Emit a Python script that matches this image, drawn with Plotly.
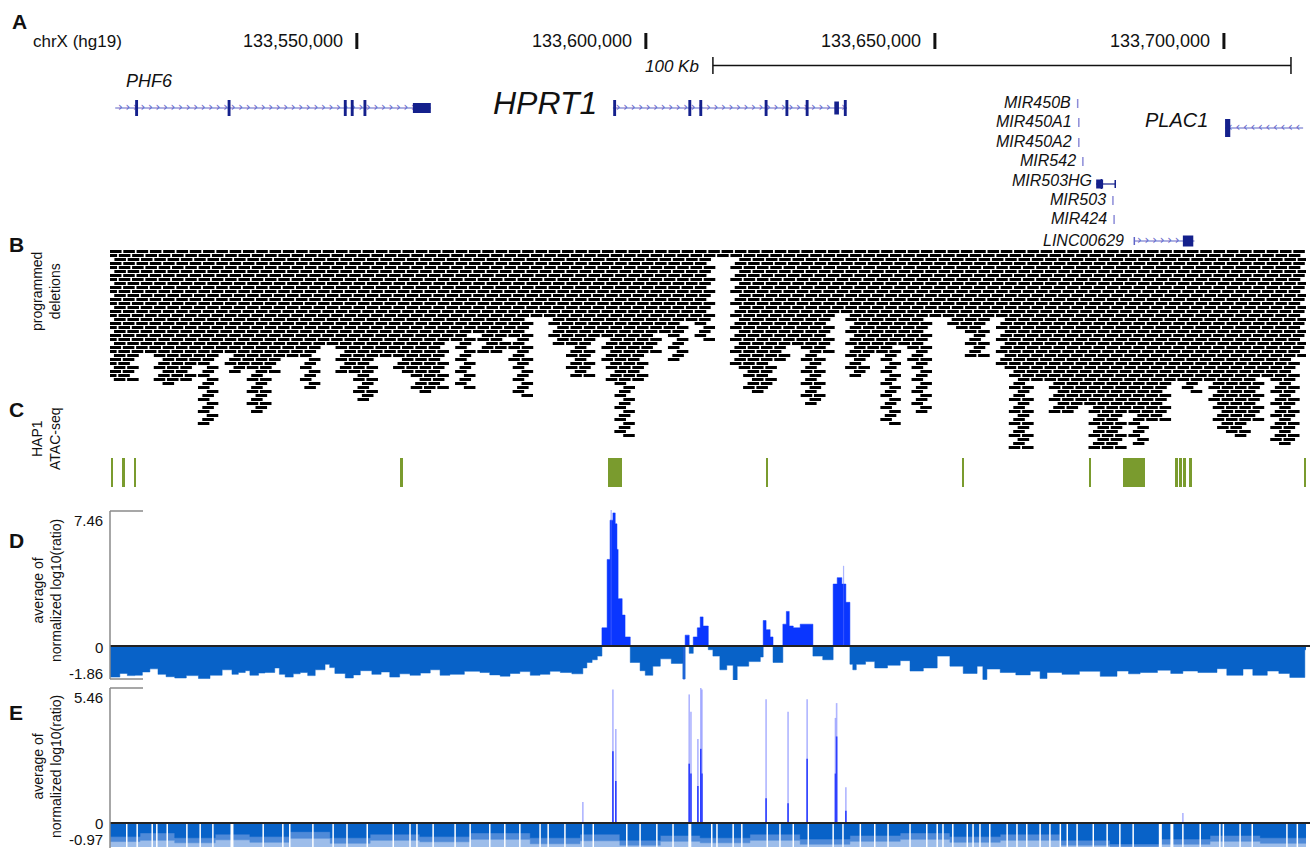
import bisect
import plotly.graph_objects as go

FONT = "Liberation Sans, Arial, Helvetica, sans-serif"
W, H = 1312, 848
WIN_KB = [133507.3, 133714.2]          # visible window, kb on chrX (hg19)

# ---------------- ruler ----------------
ruler_tick_kb = [133550, 133600, 133650, 133700]
ruler_tick_txt = ["133,550,000", "133,600,000", "133,650,000", "133,700,000"]
scalebar_kb = [133611.6, 133711.6]

# ---------------- genes (kb) ----------------
phf6_span = [133508.2, 133562.8]
phf6_exons = [133511.9, 133527.9, 133548.0, 133549.2, 133551.4]
phf6_block = [133559.7, 133562.8]
hprt1_span = [133594.3, 133634.8]
hprt1_exons = [133594.6, 133607.6, 133609.5, 133620.8, 133624.4, 133627.9, 133634.5]
hprt1_block = [133632.6, 133633.4]
plac1_span = [133700.2, 133713.7]
plac1_block = [133700.2, 133701.1]
mir503hg_span = [133677.9, 133681.2]
mir503hg_block = [133677.9, 133679.1]
linc00629_span = [133684.5, 133694.9]
linc00629_block = [133692.9, 133694.7]
mirna_names = ["MIR450B", "MIR450A1", "MIR450A2", "MIR542", "MIR503", "MIR424"]
mirna_kb = [133674.7, 133674.9, 133674.9, 133675.6, 133680.8, 133681.0]

# ---------------- programmed deletions: stack depth per region ----------------
del_edges_kb = [133507.3, 133511.3, 133515.6, 133518.7, 133521.5, 133522.9, 133525.1, 133528.1,
                133530.7, 133531.9, 133534.6, 133536.2, 133538.4, 133540.7, 133542.9, 133546.6,
                133549.7, 133553.3, 133556.6, 133559.7, 133563.4, 133565.6, 133567.3, 133569.9,
                133571.7, 133576.0, 133577.2, 133580.0, 133583.9, 133586.5, 133590.5, 133593.3,
                133595.2, 133597.6, 133599.9, 133601.9, 133604.5, 133606.6, 133609.2, 133611.5,
                133615.4, 133617.5, 133619.9, 133622.2, 133624.6, 133627.2, 133630.3, 133632.2,
                133635.0, 133638.3, 133641.0, 133643.6, 133646.2, 133649.0, 133653.0, 133655.6,
                133659.0, 133660.9, 133663.7, 133666.3, 133670.3, 133674.3, 133677.0, 133682.4,
                133684.3, 133686.4, 133690.3, 133693.1, 133695.7, 133698.3, 133701.1, 133703.7,
                133706.4, 133709.0, 133712.5, 133714.2]
del_rows = [33, 26, 34, 33, 28, 44, 26, 31, 29, 41, 31, 27, 27, 35, 24, 31, 38, 27, 31, 36,
            35, 23, 35, 21, 26, 21, 37, 17, 24, 32, 22, 33, 47, 33, 26, 21, 28, 18, 23, 2,
            30, 36, 35, 28, 24, 39, 26, 16, 32, 26, 44, 24, 41, 17, 20, 27, 17, 30, 50, 33,
            41, 39, 50, 41, 49, 43, 33, 36, 33, 45, 47, 43, 32, 49, 27]

# ---------------- HAP1 ATAC-seq peaks (kb) ----------------
atac_start_kb = [133507.5, 133509.3, 133511.4, 133557.5, 133593.5, 133620.8, 133654.7, 133676.6,
                 133682.5, 133691.6, 133692.2, 133693.0, 133694.0, 133713.8]
atac_end_kb = [133507.9, 133509.9, 133511.8, 133557.9, 133595.9, 133621.2, 133655.1, 133677.0,
               133686.4, 133692.0, 133692.8, 133693.4, 133694.4, 133714.2]

# ---------------- D: average normalized log10(ratio) (step profile) ----------------
d_pos_kb = [133507.3, 133509.0, 133510.3, 133511.6, 133512.9, 133514.2, 133515.6, 133517.0,
            133518.5, 133520.5, 133522.6, 133524.6, 133526.7, 133528.4, 133529.5, 133530.7,
            133531.5, 133533.0, 133534.1, 133535.8, 133536.6, 133537.6, 133539.0, 133540.2,
            133541.5, 133542.8, 133544.5, 133545.3, 133546.2, 133548.0, 133549.4, 133550.6,
            133552.6, 133554.2, 133555.7, 133557.4, 133559.2, 133561.0, 133562.7, 133564.4,
            133566.1, 133568.6, 133571.3, 133573.0, 133574.8, 133576.5, 133578.2, 133580.0,
            133581.7, 133583.4, 133585.2, 133587.2, 133589.1, 133589.8,
            133590.7, 133591.6, 133592.4, 133593.3, 133593.8, 133594.3, 133594.7, 133595.0,
            133595.2, 133595.9, 133596.4, 133597.3, 133599.0, 133599.9, 133601.2, 133602.5,
            133604.4, 133606.4, 133606.8, 133607.5, 133608.2, 133608.9, 133609.4, 133609.9, 133610.8,
            133611.6, 133612.8, 133614.0, 133615.1, 133615.8, 133617.8, 133619.8, 133620.3, 133620.8, 133621.5,
            133622.0, 133623.7, 133624.3, 133624.8, 133625.5, 133626.7, 133628.9, 133630.6, 133632.4,
            133633.1, 133633.9, 133634.6, 133635.3, 133635.8, 133636.4, 133638.0, 133639.6, 133641.8, 133644.0,
            133645.7, 133648.0, 133650.4, 133652.6, 133654.9, 133657.3, 133658.3, 133659.0, 133661.3,
            133664.0, 133666.5, 133668.2, 133669.4, 133672.0, 133675.0, 133678.6, 133681.5, 133683.5,
            133685.5, 133688.5, 133690.8, 133692.9, 133695.5, 133698.8, 133700.5,
            133703.3, 133705.0, 133707.5, 133709.5, 133711.4, 133714.0]
d_val = [-1.70, -1.50, -1.62, -1.60, -1.42, -1.25, -1.55, -1.68,
         -1.75, -1.62, -1.78, -1.60, -1.30, -1.55, -1.45,
         -1.35, -1.60, -1.48, -1.45, -1.20, -1.55, -1.70, -1.52, -1.45,
         -1.62, -1.30, -1.00, -1.18, -1.50, -1.75, -1.58, -1.35,
         -1.55, -1.42, -1.70, -1.52, -1.60, -1.48, -1.30, -1.60,
         -1.55, -1.38, -1.45, -1.58, -1.65, -1.50, -1.40, -1.60,
         -1.55, -1.38, -1.45, -1.52, -1.20, -0.90,
         -0.75, -0.55, 1.00, 4.75, 6.90, 7.30, 6.70, 5.30,
         2.60, 1.70, 0.50, -0.90, -1.35, -1.60, -1.10, -0.70,
         -0.95, -1.80, 0.60, -0.40, 0.50, 1.00, 1.60, 1.10, -0.20,
         -0.55, -1.30, -1.05, -1.90, -1.10, -0.85, -0.60, 1.40, 0.90, 0.50,
         -0.90, 1.20, 1.90, 1.10, 1.00, 1.20, -0.55, -0.75, 3.40,
         3.75, 3.40, 2.40, -1.00, -1.30, -1.00, -0.85, -1.20, -1.05, -0.80,
         -1.37, -1.20, -0.55, -1.10, -1.50, -1.10, -1.83, -1.26, -1.45,
         -1.58, -1.38, -1.78, -1.45, -1.55, -1.38, -1.66, -1.37, -1.52,
         -1.45, -1.32, -1.50, -1.37, -1.45, -1.24, -1.60,
         -1.26, -1.60, -1.37, -1.50, -1.72, -0.20]
d_thin_kb = [133594.0, 133634.2, 133606.6]
d_thin_val = [7.46, 4.40, -1.86]

# ---------------- E: average normalized log10(ratio) ----------------
e_spike_kb = [133589.1, 133594.3, 133594.8, 133607.5, 133607.8, 133609.0, 133609.5, 133609.7,
              133620.8, 133624.6, 133627.9, 133632.8, 133633.0, 133634.6, 133692.9]
e_spike_max = [0.85, 5.40, 3.80, 5.20, 4.50, 3.40, 5.46, 5.40, 5.00, 4.50, 5.00, 4.25, 4.85, 1.45, 0.40]
e_spike_dense = [0.0, 2.9, 1.7, 2.4, 2.0, 1.5, 3.0, 2.0, 1.0, 0.8, 2.6, 2.0, 3.5, 0.5, 0.0]
e_dark_kb = [133507.3, 133512.5, 133518.5, 133525.5, 133531.5, 133538.4, 133545.4, 133552.3,
             133560.9, 133569.6, 133580.0, 133588.6, 133595.5, 133602.5, 133609.4, 133618.0,
             133626.7, 133635.3, 133644.0, 133652.6, 133661.3, 133671.7, 133680.3, 133689.0,
             133697.6, 133706.3]
e_dark_val = [-0.55, -0.40, -0.60, -0.45, -0.55, -0.35, -0.60, -0.45, -0.55, -0.40, -0.60, -0.45,
              -0.70, -0.50, -0.60, -0.45, -0.65, -0.50, -0.40, -0.55, -0.45, -0.70, -0.85, -0.65,
              -0.50, -0.60]
e_mid_val = [-0.75, -0.70, -0.80, -0.68, -0.78, -0.62, -0.82, -0.70, -0.76, -0.66, -0.84, -0.72,
             -0.90, -0.74, -0.80, -0.70, -0.86, -0.74, -0.66, -0.78, -0.70, -0.90, -0.95, -0.86,
             -0.74, -0.82]
e_gap_kb = [133510.2, 133512.0, 133514.6, 133515.4, 133517.2, 133520.6, 133522.9, 133525.1,
            133528.4, 133533.8, 133537.2, 133538.4, 133542.4, 133545.9, 133548.3, 133551.8,
            133556.3, 133559.2, 133560.4, 133563.2, 133567.0, 133569.6, 133573.0, 133575.6,
            133578.2, 133581.7, 133583.1, 133586.0, 133589.1, 133590.9, 133596.7, 133599.0,
            133601.9, 133604.7, 133607.6, 133611.4, 133612.3, 133615.1, 133616.6, 133621.0,
            133623.2, 133625.5, 133628.1, 133632.4, 133634.1, 133637.1, 133639.6, 133641.9,
            133645.7, 133648.6, 133650.4, 133651.4, 133653.1, 133655.6, 133656.6, 133657.8,
            133659.5, 133662.5, 133664.2, 133665.9, 133668.2, 133669.9, 133671.7, 133672.9,
            133674.6, 133677.4, 133679.8, 133682.0, 133684.3, 133689.0, 133691.0, 133692.9,
            133695.9, 133699.3, 133699.9, 133702.8, 133704.9, 133710.9, 133712.7]
e_gap_wide_kb = [133528.4, 133607.6, 133689.0, 133691.0]

# ---------------- colours ----------------
NAVY = "#14208c"
INTRON = "#5f64c8"
MIRC = "#8c8cd8"
ATAC = "#7a9b2e"
POS = "#0a36ff"
NEG = "#0862c8"
EMID = "#4f8ad8"
ELIGHT = "#9dbdea"

fig = go.Figure()
shapes, annotations = [], []


def ann(text, px, py, size=15, xanchor="center", yanchor="middle", angle=0, bold=False):
    t = "<b>%s</b>" % text if bold else text
    annotations.append(dict(xref="paper", yref="paper", x=px / W, y=1 - py / H, text=t,
                            showarrow=False, xanchor=xanchor, yanchor=yanchor, textangle=angle,
                            font=dict(size=size, color="#111", family=FONT)))


def rect(x0, x1, yc, half, color):
    shapes.append(dict(type="rect", xref="x", yref="y", x0=x0, x1=x1, y0=yc - half, y1=yc + half,
                       fillcolor=color, line=dict(width=0), layer="above"))


def hline(x0, x1, y, color, width):
    shapes.append(dict(type="line", xref="x", yref="y", x0=x0, x1=x1, y0=y, y1=y,
                       line=dict(color=color, width=width), layer="above"))


def vline(x, y0, y1, color, width):
    shapes.append(dict(type="line", xref="x", yref="y", x0=x, x1=x, y0=y0, y1=y1,
                       line=dict(color=color, width=width), layer="above"))


def chevrons(span, y, symbol, step=1.3):
    xs = []
    x = span[0] + 0.9
    while x < span[1] - 0.6:
        xs.append(x)
        x += step
    fig.add_trace(go.Scatter(x=xs, y=[y - 0.5] * len(xs), mode="text", text=[symbol] * len(xs),
                             textfont=dict(size=12, color=INTRON, family="DejaVu Sans"),
                             hoverinfo="skip", showlegend=False, xaxis="x", yaxis="y"))


# ---- ruler ----
for kb, lab in zip(ruler_tick_kb, ruler_tick_txt):
    vline(kb, 33, 49, "#111", 3)
    annotations.append(dict(xref="x", yref="y", x=kb, y=41, text=lab, xanchor="right", yanchor="middle",
                            xshift=-12, showarrow=False, font=dict(size=18, color="#111", family=FONT)))
ann("chrX (hg19)", 31, 41, size=17, xanchor="left")
hline(scalebar_kb[0], scalebar_kb[1], 65.5, "#111", 1.5)
vline(scalebar_kb[0], 57, 74, "#111", 1.5)
vline(scalebar_kb[1], 57, 74, "#111", 1.5)
annotations.append(dict(xref="x", yref="y", x=scalebar_kb[0], y=66, text="<i>100 Kb</i>", xanchor="right",
                        yanchor="middle", xshift=-12, showarrow=False,
                        font=dict(size=17, color="#111", family=FONT)))

# ---- genes ----
EXW = 0.5
hline(phf6_span[0], phf6_span[1], 108, INTRON, 1.2)
chevrons(phf6_span, 108, "›")
for e in phf6_exons:
    rect(e - EXW / 2, e + EXW / 2, 108, 8, NAVY)
rect(phf6_block[0], phf6_block[1], 108, 5, NAVY)
ann("<i>PHF6</i>", 149, 81, size=18)

hline(hprt1_span[0], hprt1_span[1], 108, INTRON, 1.2)
chevrons(hprt1_span, 108, "›")
for e in hprt1_exons:
    rect(e - EXW / 2, e + EXW / 2, 108, 8, NAVY)
rect(hprt1_block[0], hprt1_block[1], 108, 6.5, NAVY)
annotations.append(dict(xref="x", yref="y", x=hprt1_span[0], y=103, text="<i>HPRT1</i>", xanchor="right",
                        yanchor="middle", xshift=-14, showarrow=False,
                        font=dict(size=32, color="#111", family=FONT)))

hline(plac1_span[0], plac1_span[1], 128, INTRON, 1.2)
chevrons(plac1_span, 128, "‹")
rect(plac1_block[0], plac1_block[1], 128, 9, NAVY)
annotations.append(dict(xref="x", yref="y", x=plac1_span[0], y=120, text="<i>PLAC1</i>", xanchor="right",
                        yanchor="middle", xshift=-15, showarrow=False,
                        font=dict(size=20, color="#111", family=FONT)))

mirna_row = [102, 121, 141, 160, 199, 218]
for name, kb, y in zip(mirna_names, mirna_kb, mirna_row):
    vline(kb, y - 3, y + 6, MIRC, 1.5)
    annotations.append(dict(xref="x", yref="y", x=kb, y=y, text="<i>%s</i>" % name, xanchor="right",
                            yanchor="middle", xshift=-5, showarrow=False,
                            font=dict(size=16, color="#111", family=FONT)))

hline(mir503hg_span[0], mir503hg_span[1], 184, NAVY, 1.2)
rect(mir503hg_block[0], mir503hg_block[1], 184, 4.5, NAVY)
vline(mir503hg_span[1], 180, 188, NAVY, 1.5)
vline(mir503hg_block[1] - 0.3, 179, 189, NAVY, 1.5)
annotations.append(dict(xref="x", yref="y", x=mir503hg_span[0], y=180, text="<i>MIR503HG</i>", xanchor="right",
                        yanchor="middle", xshift=-2, showarrow=False,
                        font=dict(size=16, color="#111", family=FONT)))

hline(linc00629_span[0], linc00629_span[1], 241, INTRON, 1.2)
chevrons([linc00629_span[0], linc00629_block[0]], 241, "›")
vline(linc00629_span[0], 237, 245, INTRON, 1.5)
rect(linc00629_block[0], linc00629_block[1], 241, 5.5, NAVY)
annotations.append(dict(xref="x", yref="y", x=linc00629_span[0], y=240, text="<i>LINC00629</i>", xanchor="right",
                        yanchor="middle", xshift=-8, showarrow=False,
                        font=dict(size=16, color="#111", family=FONT)))

# ---- programmed deletions ----
BAR, GAP = 2.0, 0.3
PITCH = BAR + GAP
dx, dy = [], []
for r in range(max(del_rows)):
    y = 251.5 + 4 * r
    s = WIN_KB[0] - (r * 0.77) % PITCH
    while s < WIN_KB[1]:
        c = s + BAR / 2
        i = bisect.bisect_right(del_edges_kb, c) - 1
        if 0 <= i < len(del_rows) and del_rows[i] > r:
            a, b = max(s, del_edges_kb[0]), min(s + BAR, del_edges_kb[-1])
            if b > a:
                dx += [a, b, None]
                dy += [y, y, None]
        s += PITCH
fig.add_trace(go.Scatter(x=dx, y=dy, mode="lines", line=dict(color="black", width=3),
                         hoverinfo="skip", showlegend=False, xaxis="x", yaxis="y"))

# ---- ATAC ----
fig.add_trace(go.Bar(x=[(a + b) / 2 for a, b in zip(atac_start_kb, atac_end_kb)],
                     y=[1] * len(atac_start_kb),
                     width=[b - a for a, b in zip(atac_start_kb, atac_end_kb)],
                     marker=dict(color=ATAC, line=dict(width=0)), showlegend=False,
                     hoverinfo="skip", xaxis="x", yaxis="y4"))

# ---- D ----
dxs = d_pos_kb + [WIN_KB[1]]
dpos = [max(v, 0) for v in d_val] + [max(d_val[-1], 0)]
dneg = [min(v, 0) for v in d_val] + [min(d_val[-1], 0)]
fig.add_trace(go.Scatter(x=dxs, y=dneg, mode="lines", line=dict(color=NEG, width=0.5, shape="hv"),
                         fill="tozeroy", fillcolor=NEG, hoverinfo="skip", showlegend=False,
                         xaxis="x", yaxis="y2"))
fig.add_trace(go.Scatter(x=dxs, y=dpos, mode="lines", line=dict(color=POS, width=0.5, shape="hv"),
                         fill="tozeroy", fillcolor=POS, hoverinfo="skip", showlegend=False,
                         xaxis="x", yaxis="y2"))
tx, ty = [], []
for k, v in zip(d_thin_kb, d_thin_val):
    tx += [k, k, None]
    ty += [0, v, None]
fig.add_trace(go.Scatter(x=tx, y=ty, mode="lines", line=dict(color="rgba(90,110,255,0.5)", width=1.2),
                         hoverinfo="skip", showlegend=False, xaxis="x", yaxis="y2"))

# ---- E ----
fig.add_trace(go.Scatter(x=WIN_KB, y=[-0.97, -0.97], mode="lines", line=dict(color=ELIGHT, width=0),
                         fill="tozeroy", fillcolor=ELIGHT, hoverinfo="skip", showlegend=False,
                         xaxis="x", yaxis="y3"))
exs = e_dark_kb + [WIN_KB[1]]
fig.add_trace(go.Scatter(x=exs, y=e_mid_val + [e_mid_val[-1]], mode="lines",
                         line=dict(color=EMID, width=0.5, shape="hv"),
                         fill="tozeroy", fillcolor=EMID, hoverinfo="skip", showlegend=False,
                         xaxis="x", yaxis="y3"))
fig.add_trace(go.Scatter(x=exs, y=e_dark_val + [e_dark_val[-1]], mode="lines",
                         line=dict(color=NEG, width=0.5, shape="hv"),
                         fill="tozeroy", fillcolor=NEG, hoverinfo="skip", showlegend=False,
                         xaxis="x", yaxis="y3"))
gx, gy = [], []
for g in e_gap_kb:
    gx += [g, g, None]
    gy += [-0.04, -0.97, None]
fig.add_trace(go.Scatter(x=gx, y=gy, mode="lines", line=dict(color="white", width=1.5),
                         hoverinfo="skip", showlegend=False, xaxis="x", yaxis="y3"))
wx, wy = [], []
for g in e_gap_wide_kb:
    wx += [g, g, None]
    wy += [-0.04, -0.97, None]
fig.add_trace(go.Scatter(x=wx, y=wy, mode="lines", line=dict(color="white", width=3),
                         hoverinfo="skip", showlegend=False, xaxis="x", yaxis="y3"))
sx, sy, kx, ky = [], [], [], []
for k, m, d in zip(e_spike_kb, e_spike_max, e_spike_dense):
    sx += [k, k, None]
    sy += [0, m, None]
    if d > 0:
        kx += [k, k, None]
        ky += [0, d, None]
fig.add_trace(go.Scatter(x=sx, y=sy, mode="lines", line=dict(color="rgba(110,120,255,0.55)", width=1.6),
                         hoverinfo="skip", showlegend=False, xaxis="x", yaxis="y3"))
fig.add_trace(go.Scatter(x=kx, y=ky, mode="lines", line=dict(color="#2e40ff", width=1.6),
                         hoverinfo="skip", showlegend=False, xaxis="x", yaxis="y3"))

# ---- axes frames / zero lines ----
AX = "#8a8a8a"
for yref in ("y2", "y3"):
    shapes.append(dict(type="line", xref="paper", yref=yref, x0=110 / W, x1=1310 / W, y0=0, y1=0,
                       line=dict(color="#222", width=2), layer="above"))


def pline(x0, y0, x1, y1):
    shapes.append(dict(type="line", xref="paper", yref="paper", x0=x0 / W, x1=x1 / W,
                       y0=1 - y0 / H, y1=1 - y1 / H, line=dict(color=AX, width=1.5), layer="above"))


pline(110, 511, 110, 679)
pline(110, 511, 143, 511)
pline(110, 679, 143, 679)
pline(110, 688, 110, 848)
pline(110, 688, 143, 688)

# tick labels
ann("7.46", 105, 520, size=15, xanchor="right")
ann("0", 105, 647, size=15, xanchor="right")
ann("-1.86", 105, 673, size=15, xanchor="right")
ann("5.46", 105, 697, size=15, xanchor="right")
ann("0", 105, 823, size=15, xanchor="right")
ann("-0.97", 105, 839, size=15, xanchor="right")

# panel letters and track labels
ann("A", 19, 21, size=21, bold=True)
ann("B", 16, 245, size=21, bold=True)
ann("C", 16, 410, size=21, bold=True)
ann("D", 16, 540, size=21, bold=True)
ann("E", 16, 712, size=21, bold=True)
ann("programmed<br>deletions", 46, 292, size=14, angle=-90)
ann("HAP1<br>ATAC-seq", 46, 439, size=14, angle=-90)
ann("average of<br>normalized log10(ratio)", 47, 590, size=14, angle=-90)
ann("average of<br>normalized log10(ratio)", 47, 766, size=14, angle=-90)

fig.update_layout(
    width=W, height=H, margin=dict(l=0, r=0, t=0, b=0),
    paper_bgcolor="white", plot_bgcolor="rgba(0,0,0,0)",
    showlegend=False, bargap=0, hovermode=False,
    xaxis=dict(domain=[110 / W, 1306 / W], range=WIN_KB, visible=False, anchor="y", fixedrange=True),
    yaxis=dict(domain=[0, 1], range=[H, 0], visible=False, anchor="x", fixedrange=True),
    yaxis2=dict(domain=[1 - 680 / H, 1 - 510 / H], range=[-1.86, 7.46], visible=False, anchor="x",
                fixedrange=True),
    yaxis3=dict(domain=[1 - 847 / H, 1 - 688 / H], range=[-0.97, 5.46], visible=False, anchor="x",
                fixedrange=True),
    yaxis4=dict(domain=[1 - 487 / H, 1 - 458 / H], range=[0, 1], visible=False, anchor="x",
                fixedrange=True),
    shapes=shapes, annotations=annotations,
)
fig.write_html("out.html", config={"displayModeBar": False, "staticPlot": True},
               post_script="document.body.style.margin='0';document.body.style.overflow='hidden';")
